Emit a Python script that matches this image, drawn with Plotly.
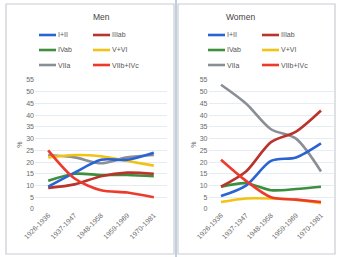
import plotly.graph_objects as go

periods = ["1926-1936", "1937-1947", "1948-1958", "1959-1969", "1970-1981"]
series_names = ["I+II", "IIIab", "IVab", "V+VI", "VIIa", "VIIb+IVc"]
series_colors = ["#2a64d4", "#b8342c", "#3c8f3c", "#f2c314", "#8a8f96", "#ec3b2b"]

men_I_II = [9.5, 15.5, 21, 21, 24]
men_IIIab = [9, 10.5, 14, 15.5, 15]
men_IVab = [12, 15, 14.5, 14.5, 14]
men_V_VI = [22, 23, 22.5, 20.5, 18.5]
men_VIIa = [23, 22, 19.5, 22, 23]
men_VIIb_IVc = [25, 13, 8, 7, 5]

women_I_II = [5.5, 10, 20.5, 22, 28]
women_IIIab = [9.5, 16, 28.5, 33, 42]
women_IVab = [9.5, 11, 8, 8.5, 9.5]
women_V_VI = [3, 4.5, 4.5, 4, 2.5]
women_VIIa = [53, 45, 34, 30, 16]
women_VIIb_IVc = [21, 12, 5, 4, 3]

y_ticks = list(range(0, 60, 5))

men = [men_I_II, men_IIIab, men_IVab, men_V_VI, men_VIIa, men_VIIb_IVc]
women = [women_I_II, women_IIIab, women_IVab, women_V_VI, women_VIIa, women_VIIb_IVc]

W, H = 338, 257
fig = go.Figure()

draw_order = [4, 3, 2, 1, 0, 5]
for i in draw_order:
    fig.add_trace(go.Scatter(x=periods, y=men[i], name=series_names[i], mode="lines",
                             line=dict(color=series_colors[i], width=2.6, shape="spline", smoothing=0.8),
                             xaxis="x", yaxis="y", showlegend=False))
for i in draw_order:
    fig.add_trace(go.Scatter(x=periods, y=women[i], name=series_names[i], mode="lines",
                             line=dict(color=series_colors[i], width=2.6, shape="spline", smoothing=0.8),
                             xaxis="x2", yaxis="y2", showlegend=False))

def px(x):
    return x / W

def py(y):
    return 1 - y / H

ydom = [py(209), py(80)]
axis_font = dict(family="Liberation Sans, Arial", size=7, color="#6a6a6a")
common_x = dict(type="category", range=[-0.5, 4.5], showgrid=False, showline=False, zeroline=False,
                tickangle=-45, tickfont=axis_font, ticks="", fixedrange=True, automargin=False)
common_y = dict(range=[0, 55], tickvals=y_ticks, showgrid=True, gridcolor="#e6ecf3",
                gridwidth=1, zeroline=False, showline=False, tickfont=axis_font,
                ticks="", domain=ydom, automargin=False,
                title=dict(text="%", font=dict(family="Liberation Sans, Arial", size=7, color="#6a6a6a"), standoff=2))

fig.update_layout(
    width=W, height=H, margin=dict(l=0, r=0, t=0, b=0),
    paper_bgcolor="white", plot_bgcolor="white", showlegend=False,
    xaxis=dict(domain=[px(35), px(167)], anchor="y", **common_x),
    yaxis=dict(anchor="x", **common_y),
    xaxis2=dict(domain=[px(208.5), px(333.5)], anchor="y2", **common_x),
    yaxis2=dict(anchor="x2", **common_y),
)

# panel borders
for x0, x1 in [(6, 174), (178, 335)]:
    fig.add_shape(type="rect", xref="paper", yref="paper", x0=px(x0), x1=px(x1),
                  y0=py(254), y1=py(4), line=dict(color="#c9ccd2", width=1.2))
fig.add_shape(type="line", xref="paper", yref="paper", x0=px(176), x1=px(176),
              y0=py(257), y1=py(0), line=dict(color="#a9c1d6", width=1.5))

titles = ["Men", "Women"]
centers = [91, 257]
leg_cols = [[39, 93], [208, 262]]
for p in range(2):
    fig.add_annotation(text=titles[p], xref="paper", yref="paper", x=px(centers[p]), y=py(17),
                       yanchor="middle", showarrow=False,
                       font=dict(family="Liberation Sans, Arial", size=8.5, color="#444"))
    for i, name in enumerate(series_names):
        col = i % 2
        row = i // 2
        x0 = leg_cols[p][col]
        yy = 35 + row * 15
        fig.add_shape(type="line", xref="paper", yref="paper", x0=px(x0), x1=px(x0 + 17),
                      y0=py(yy), y1=py(yy), line=dict(color=series_colors[i], width=2.6))
        fig.add_annotation(text=name, xref="paper", yref="paper", x=px(x0 + 17), y=py(yy),
                           xanchor="left", yanchor="middle", showarrow=False,
                           font=dict(family="Liberation Sans, Arial", size=7, color="#555"))

fig.write_html("out.html", config={"displayModeBar": False},
               post_script="document.body.style.margin='0';document.body.style.padding='0';")
